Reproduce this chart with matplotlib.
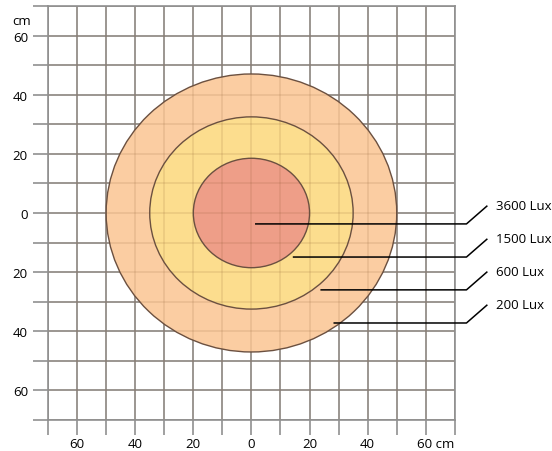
import matplotlib.pyplot as plt
import matplotlib.transforms as mtransforms
from matplotlib.patches import Ellipse

plt.rcParams['font.family'] = ['Open Sans', 'DejaVu Sans']

# light levels, outer to inner (half widths / half heights in cm)
rings = ["200 Lux", "600 Lux", "1500 Lux", "3600 Lux"]
ring_rx = [50, 35, 20]
ring_ry = [47, 32.5, 18.5]
ring_colors = ["#FBCDA2", "#FCDD8E", "#EE9E88"]

# leader lines: label, start point (cm)
labels = ["3600 Lux", "1500 Lux", "600 Lux", "200 Lux"]
start_x = [1.5, 14.5, 24, 28.5]
start_y = [-3.7, -14.9, -26, -37.2]

ticks = list(range(-70, 71, 10))
labelled = [-60, -40, -20, 0, 20, 40, 60]

fig = plt.figure(figsize=(5.52, 4.52), dpi=100)
ax = fig.add_axes([0.087, 0.0686, 0.737, 0.916])
ax.set_xlim(-70, 70)
ax.set_ylim(-70, 70)

grid_c = "#909090"
ax.set_axisbelow(True)
ax.grid(True, color=grid_c, lw=1.2)
for s in ax.spines.values():
    s.set_color(grid_c)
    s.set_linewidth(1.2)

xlabels = [str(abs(t)) if t in labelled else "" for t in ticks]
xlabels[ticks.index(60)] = "60 cm"
ax.set_xticks(ticks)
ax.set_yticks(ticks)
ax.set_xticklabels(xlabels)
ax.set_yticklabels([str(abs(t)) if t in labelled else "" for t in ticks])
ax.tick_params(length=11, width=1.2, color=grid_c, labelsize=9.5)
ax.tick_params(axis="x", pad=1.5)
ax.tick_params(axis="y", pad=3.5)

# keep "60" on its tick, with "cm" running to the right
lab60 = ax.get_xticklabels()[ticks.index(60)]
lab60.set_transform(lab60.get_transform() +
                    mtransforms.ScaledTranslation(10 / 100, 0, fig.dpi_scale_trans))

for rx, ry, c in zip(ring_rx, ring_ry, ring_colors):
    ax.add_patch(Ellipse((0, 0), 2 * rx, 2 * ry, facecolor=c, edgecolor="none", zorder=1))

# faint grid showing through the fills
for t in ticks:
    ax.axvline(t, color="#7a4a20", alpha=0.13, lw=1.2, zorder=2)
    ax.axhline(t, color="#7a4a20", alpha=0.13, lw=1.2, zorder=2)

for rx, ry in zip(ring_rx, ring_ry):
    ax.add_patch(Ellipse((0, 0), 2 * rx, 2 * ry, fill=False, edgecolor="#6b5040", lw=1.0, zorder=3))

for lab, x0, y0 in zip(labels, start_x, start_y):
    ax.plot([x0, 74, 81], [y0, y0, y0 + 6], color="black", lw=1.1, clip_on=False, zorder=4)
    ax.text(84, y0 + 6.3, lab, fontsize=9.5, va="center", ha="left")

ax.text(-76, 65, "cm", fontsize=9.5, ha="right", va="center")

fig.savefig("out.png", dpi=100)
